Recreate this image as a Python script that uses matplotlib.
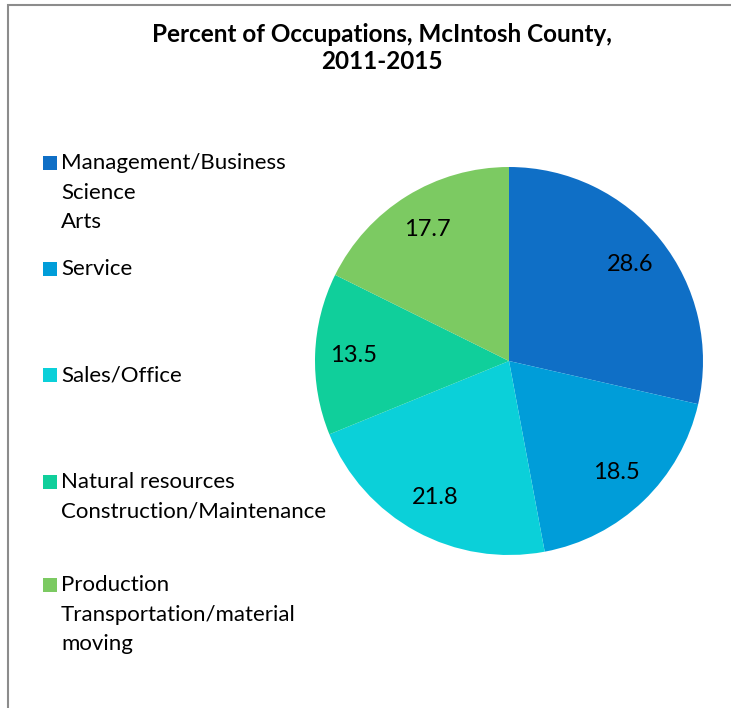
import matplotlib
matplotlib.use("Agg")
import matplotlib.pyplot as plt
from matplotlib.patches import Rectangle

categories = [
    "Management/Business\nScience\nArts",
    "Service",
    "Sales/Office",
    "Natural resources\nConstruction/Maintenance",
    "Production\nTransportation/material\nmoving",
]
values = [28.6, 18.5, 21.8, 13.5, 17.7]
colors = ["#0F6FC6", "#009DD9", "#0BD0D9", "#10CF9B", "#7CCA62"]
title = "Percent of Occupations, McIntosh County,\n2011-2015"

W, H = 731, 708
plt.rcParams['font.family'] = ['Lato', 'DejaVu Sans']
fig = plt.figure(figsize=(W / 100, H / 100), dpi=100)

# border (chart area frame)
fig.add_artist(Rectangle((8 / W, -0.1), 1.2, (H - 5) / H + 0.1, transform=fig.transFigure,
                         fill=False, edgecolor="#8c8c8c", linewidth=1.5))

cx, cy, r = 509, 361, 194
ax = fig.add_axes([(cx - r) / W, (H - cy - r) / H, 2 * r / W, 2 * r / H])
total = sum(values)
wedges, texts, autotexts = ax.pie(
    values, colors=colors, startangle=90, counterclock=False,
    autopct=lambda p: f"{p * total / 100:.1f}", pctdistance=0.8,
    textprops=dict(fontsize=17, color="black"),
    wedgeprops=dict(linewidth=0))
ax.set_xlim(-1, 1)
ax.set_ylim(-1, 1)
ax.set_aspect("equal")

fig.text(382 / W, 1 - 48 / H, title, ha="center", va="center", fontsize=17.5,
         fontweight="bold", linespacing=1.24)

legend_y = [162, 268, 374, 481, 584]
for lab, col, y in zip(categories, colors, legend_y):
    fig.add_artist(Rectangle((43 / W, 1 - (y + 7.5) / H), 14 / W, 14 / H,
                             transform=fig.transFigure, facecolor=col, edgecolor="none"))
    fig.text(61 / W, 1 - (y - 9) / H, lab, ha="left", va="top", fontsize=16,
             linespacing=1.6)

fig.savefig("out.png", dpi=100)
